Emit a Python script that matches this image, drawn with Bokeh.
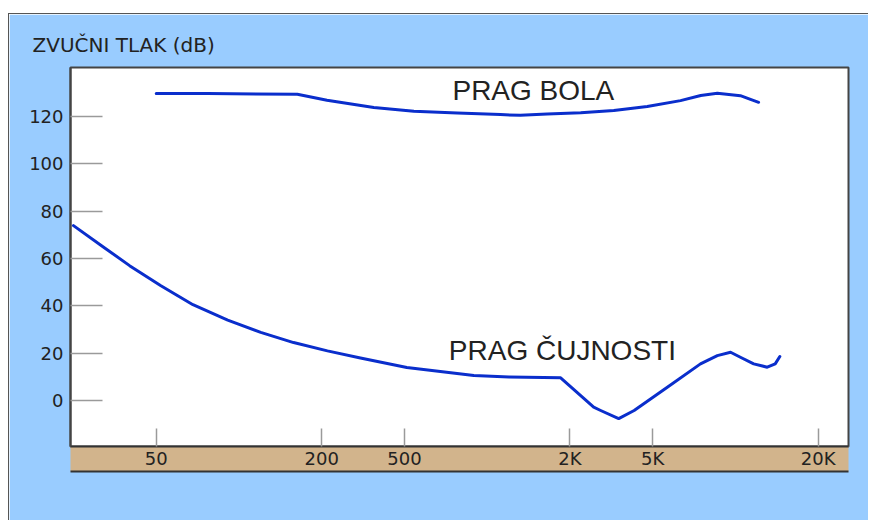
import numpy as np
from bokeh.plotting import figure
from bokeh.models import Range1d, FixedTicker, Label, LinearAxis
from bokeh.embed import file_html
from bokeh.resources import INLINE

# x axis: frequencies evenly spaced along this sequence (Hz)
scale_freqs = [25, 50, 100, 200, 500, 1000, 2000, 5000, 10000, 20000]

tick_freqs = [50, 200, 500, 2000, 5000, 20000]
tick_labels = ["50", "200", "500", "2K", "5K", "20K"]
db_ticks = [0, 20, 40, 60, 80, 100, 120]

# threshold of hearing (Hz, dB)
hearing_freq = [25, 32, 40, 52, 68, 91, 120, 158, 213, 307, 510, 894, 1200, 1850,
                2600, 2810, 3430, 4070, 5650, 7460, 8590, 9600, 10420, 11650, 13050,
                13950, 14500]
hearing_db = [73.9, 65, 57, 48.5, 40.5, 34, 28.8, 24.5, 21, 18, 14, 10.6, 10, 9.6,
              -2.8, -4.2, -7.6, -4.2, 5.6, 15.5, 19.0, 20.4, 18.3, 15.5, 14.1,
              15.5, 18.6]

# threshold of pain (Hz, dB)
pain_freq = [50, 77, 163, 212, 356, 541, 778, 1117, 1320, 1653, 2253, 3250, 4705,
             6312, 7475, 8590, 10420, 12140]
pain_db = [129.7, 129.7, 129.4, 126.9, 123.8, 122.2, 121.5, 120.8, 120.5, 121.1,
           121.6, 122.5, 124.2, 126.7, 128.9, 129.8, 128.8, 126]

title_text = "ZVUČNI TLAK (dB)"
pain_label = "PRAG BOLA"
hearing_label = "PRAG ČUJNOSTI"


def pos(f):
    return np.interp(np.log10(np.asarray(f, dtype=float)), np.log10(scale_freqs),
                     np.arange(len(scale_freqs)) - 1.0)


BLUE_BG = "#99CCFF"
TAN = "#D2B48C"
LINE = "#0a2ecc"
DARK = "#444444"
TEXT = "#222222"

p = figure(width=860, height=507, output_backend="svg", toolbar_location=None,
           x_range=Range1d(-1.036, 8.366), y_range=Range1d(-19.4, 140.7),
           min_border_left=61, min_border_right=21, min_border_top=53,
           min_border_bottom=75)
p.styles = {"margin-top": "13px", "margin-left": "8px",
            "border-top": "1px solid #555555", "border-left": "1px solid #555555"}
p.background_fill_color = "white"
p.border_fill_color = BLUE_BG
p.outline_line_color = DARK
p.outline_line_width = 2
p.grid.visible = False

p.title.text = title_text
p.title.align = "left"
p.title.offset = -38
p.title.standoff = 22
p.title.text_font = "DejaVu Sans"
p.title.text_font_size = "20px"
p.title.text_font_style = "normal"
p.title.text_color = TEXT

# y axis
ya = p.yaxis[0]
ya.ticker = FixedTicker(ticks=db_ticks)
ya.major_tick_in = 32
ya.major_tick_out = 0
ya.major_tick_line_color = "#9a9a9a"
ya.major_tick_line_width = 1.5
ya.minor_tick_line_color = None
ya.axis_line_color = DARK
ya.axis_line_width = 2
ya.major_label_text_font = "DejaVu Sans"
ya.major_label_text_font_size = "18px"
ya.major_label_text_color = TEXT
ya.major_label_standoff = 7

# x axis (tan band)
tick_pos = [float(v) for v in pos(tick_freqs)]
xa = p.xaxis[0]
xa.ticker = FixedTicker(ticks=tick_pos)
xa.major_label_overrides = {tp: lab for tp, lab in zip(tick_pos, tick_labels)}
xa.major_tick_in = 18
xa.major_tick_out = 0
xa.major_tick_line_color = "#9a9a9a"
xa.major_tick_line_width = 1.5
xa.minor_tick_line_color = None
xa.axis_line_color = "#333333"
xa.axis_line_width = 2
xa.major_label_text_font = "DejaVu Sans"
xa.major_label_text_font_size = "18px"
xa.major_label_text_color = TEXT
xa.major_label_standoff = 1
xa.background_fill_color = TAN

# extra tan padding below labels (its tick lies outside the visible range)
xb = LinearAxis(ticker=FixedTicker(ticks=[100.0]), major_tick_out=3, major_tick_in=0,
                major_tick_line_color=TAN, minor_tick_line_color=None,
                axis_line_color=None, major_label_standoff=0,
                background_fill_color=TAN)
p.add_layout(xb, "below")
# bottom border line of the band
xc = LinearAxis(ticker=FixedTicker(ticks=[100.0]), major_tick_out=0, major_tick_in=0,
                major_tick_line_color=None, minor_tick_line_color=None,
                axis_line_color="#333333", axis_line_width=2, major_label_standoff=0)
p.add_layout(xc, "below")

p.line(pos(pain_freq), pain_db, line_color=LINE, line_width=3, line_join="round",
       line_cap="round")
p.line(pos(hearing_freq), hearing_db, line_color=LINE, line_width=3, line_join="round",
       line_cap="round")

p.add_layout(Label(x=3.58, y=130.8, text=pain_label, text_font="Liberation Sans",
                   text_font_size="28px", text_color=TEXT, text_baseline="alphabetic"))
p.add_layout(Label(x=3.536, y=21.0, text=hearing_label, text_font="Liberation Sans",
                   text_font_size="28px", text_color=TEXT, text_baseline="alphabetic"))

open("out.html", "w").write(file_html(p, INLINE))
